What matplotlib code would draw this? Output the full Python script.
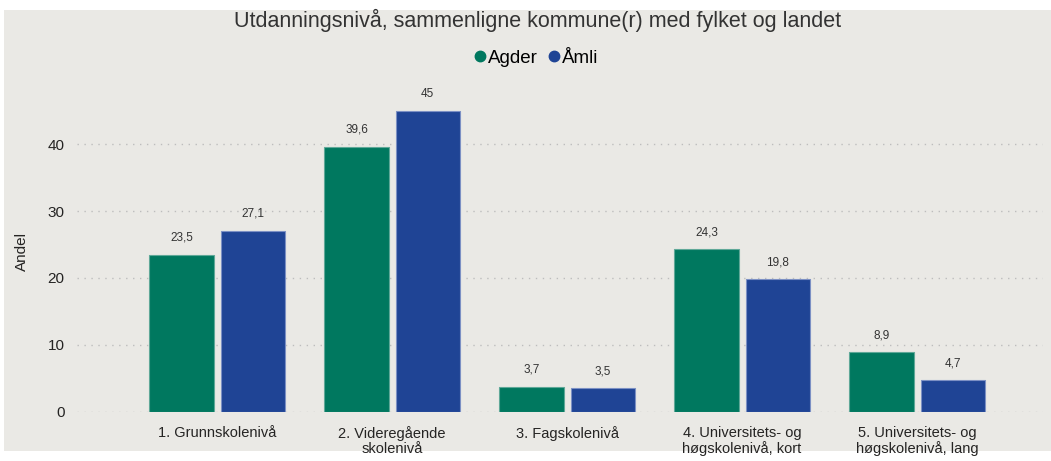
import numpy as np
import matplotlib.pyplot as plt
from matplotlib.patches import Rectangle
from matplotlib.lines import Line2D

plt.rcParams['font.family'] = ['Liberation Sans', 'DejaVu Sans']

categories = ['1. Grunnskolenivå', '2. Videregående\nskolenivå', '3. Fagskolenivå',
              '4. Universitets- og\nhøgskolenivå, kort', '5. Universitets- og\nhøgskolenivå, lang']
agder = [23.5, 39.6, 3.7, 24.3, 8.9]
amli = [27.1, 45, 3.5, 19.8, 4.7]
series_names = ['Agder', 'Åmli']
yticks = [0, 10, 20, 30, 40]

green = '#00785F'
blue = '#1F4495'
bg = '#EAE9E5'

fig = plt.figure(figsize=(10.51, 4.61), dpi=100)
fig.patch.set_facecolor('white')
# grey panel behind the chart
fig.patches.append(Rectangle((4 / 1051, 10 / 461), 1 - 4 / 1051, 441 / 461,
                             transform=fig.transFigure, facecolor=bg, edgecolor='none', zorder=-10))

ax = fig.add_axes([77 / 1051, 49.3 / 461, 966 / 1051, 320.9 / 461])
ax.set_facecolor('none')

x = np.arange(len(categories))
w = 0.366
off = 0.203
b1 = ax.bar(x - off, agder, w, color=green, edgecolor='#5FA898', linewidth=0.8, zorder=3)
b2 = ax.bar(x + off, amli, w, color=blue, edgecolor='#7C90C4', linewidth=0.8, zorder=3)

def fmt(v):
    s = f'{v:g}'
    return s.replace('.', ',')

for bars, vals in [(b1, agder), (b2, amli)]:
    for rect, v in zip(bars, vals):
        ax.annotate(fmt(v), (rect.get_x() + rect.get_width() / 2, v),
                    xytext=(0, 8), textcoords='offset points', ha='center', va='bottom',
                    fontsize=8.5, color='#333333')

ax.set_xlim(-0.8, 4.72)
ax.set_ylim(0, 48)
ax.set_yticks(yticks)
ax.set_xticks(x)
ax.set_xticklabels(categories, fontsize=10.5, color='#252423', linespacing=1.15)
ax.tick_params(axis='x', length=0, pad=10)
ax.tick_params(axis='y', length=0, pad=9, labelsize=11, labelcolor='#252423')
ax.grid(axis='y', linestyle=(0, (1, 4)), color='#BDBDBD', linewidth=1, zorder=0)
for s in ax.spines.values():
    s.set_visible(False)
ax.set_ylabel('Andel', fontsize=11, color='#252423', labelpad=13)

fig.text(538 / 1051, 1 - 20 / 461, 'Utdanningsnivå, sammenligne kommune(r) med fylket og landet',
         ha='center', va='center', fontsize=15.5, color='#333333')

handles = [Line2D([], [], marker='o', linestyle='none', color=green, markersize=7.5),
           Line2D([], [], marker='o', linestyle='none', color=blue, markersize=7.5)]
fig.legend(handles, series_names, loc='center', bbox_to_anchor=(535 / 1051, 1 - 58 / 461),
           ncol=2, frameon=False, fontsize=13.5, handletextpad=0.0, columnspacing=0.4,
           handlelength=0.9, borderpad=0)

fig.savefig('out.png', dpi=100, facecolor='white')
